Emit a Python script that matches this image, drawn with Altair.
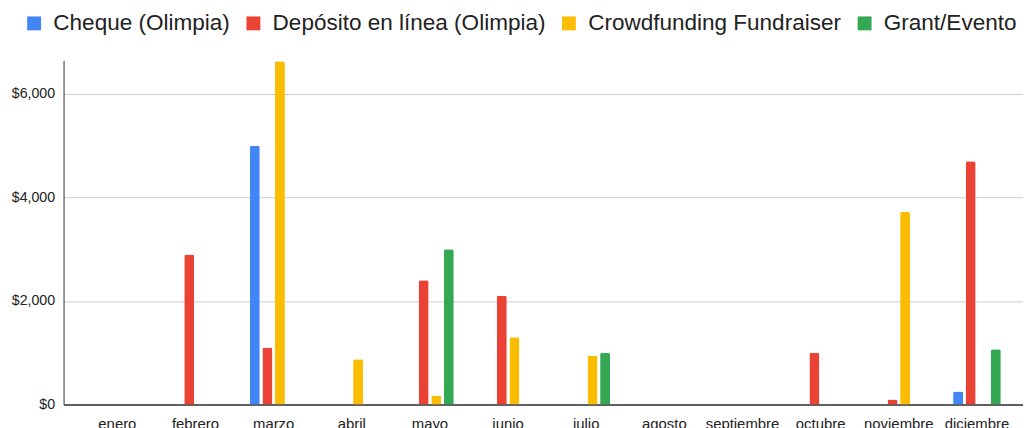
import altair as alt
import pandas as pd

months = ["enero", "febrero", "marzo", "abril", "mayo", "junio", "julio",
          "agosto", "septiembre", "octubre", "noviembre", "diciembre"]
series = ["Cheque (Olimpia)", "Depósito en línea (Olimpia)",
          "Crowdfunding Fundraiser", "Grant/Evento"]
colors = ["#4285F4", "#EA4335", "#FBBC04", "#34A853"]

cheque = {"marzo": 5000, "diciembre": 250}
deposito = {"febrero": 2900, "marzo": 1100, "mayo": 2400, "junio": 2100,
            "octubre": 1000, "noviembre": 100, "diciembre": 4700}
crowdfunding = {"marzo": 6630, "abril": 875, "mayo": 175, "junio": 1300,
                "julio": 950, "noviembre": 3720}
grant = {"mayo": 3000, "julio": 1000, "diciembre": 1070}

rows = []
for name, vals in zip(series, [cheque, deposito, crowdfunding, grant]):
    for m, v in vals.items():
        rows.append({"mes": m, "serie": name, "valor": v})
df = pd.DataFrame(rows)

FONT = "Liberation Sans"

chart = alt.Chart(df).mark_bar(
    cornerRadiusTopLeft=2, cornerRadiusTopRight=2
).encode(
    x=alt.X("mes:N", sort=months,
            scale=alt.Scale(domain=months, paddingInner=0.39,
                            paddingOuter=0.334, align=0.574),
            axis=alt.Axis(title=None, labelAngle=0, ticks=False,
                          labelPadding=12, labelFontSize=15, labelFont=FONT,
                          labelColor="#222222", domainColor="#333333",
                          domainWidth=1.5, grid=False)),
    xOffset=alt.XOffset("serie:N", sort=series,
                        scale=alt.Scale(domain=series, paddingInner=0.21,
                                        paddingOuter=0)),
    y=alt.Y("valor:Q",
            scale=alt.Scale(domain=[0, 6650], nice=False),
            axis=alt.Axis(title=None, values=[0, 2000, 4000, 6000],
                          format="$,.0f", ticks=False, labelPadding=9,
                          labelFontSize=14.3, labelFont=FONT,
                          labelColor="#222222", domainColor="#333333",
                          domainWidth=1, gridColor="#cccccc", gridWidth=1)),
    color=alt.Color("serie:N", sort=series,
                    scale=alt.Scale(domain=series, range=colors),
                    legend=alt.Legend(title=None, orient="none",
                                      direction="horizontal",
                                      legendX=-41, legendY=-49,
                                      symbolType="square", symbolSize=196,
                                      symbolStrokeWidth=0, labelFont=FONT,
                                      labelFontSize=22.7, labelColor="#222222",
                                      labelOffset=8, columnPadding=12,
                                      padding=0, labelLimit=400)),
).properties(
    width=967, height=347,
    autosize=alt.AutoSizeParams(type="none"),
    padding={"left": 56, "top": 51, "right": 0, "bottom": 30},
).configure_view(stroke=None)

chart.save("out.html", embed_options={"renderer": "svg", "actions": False})
